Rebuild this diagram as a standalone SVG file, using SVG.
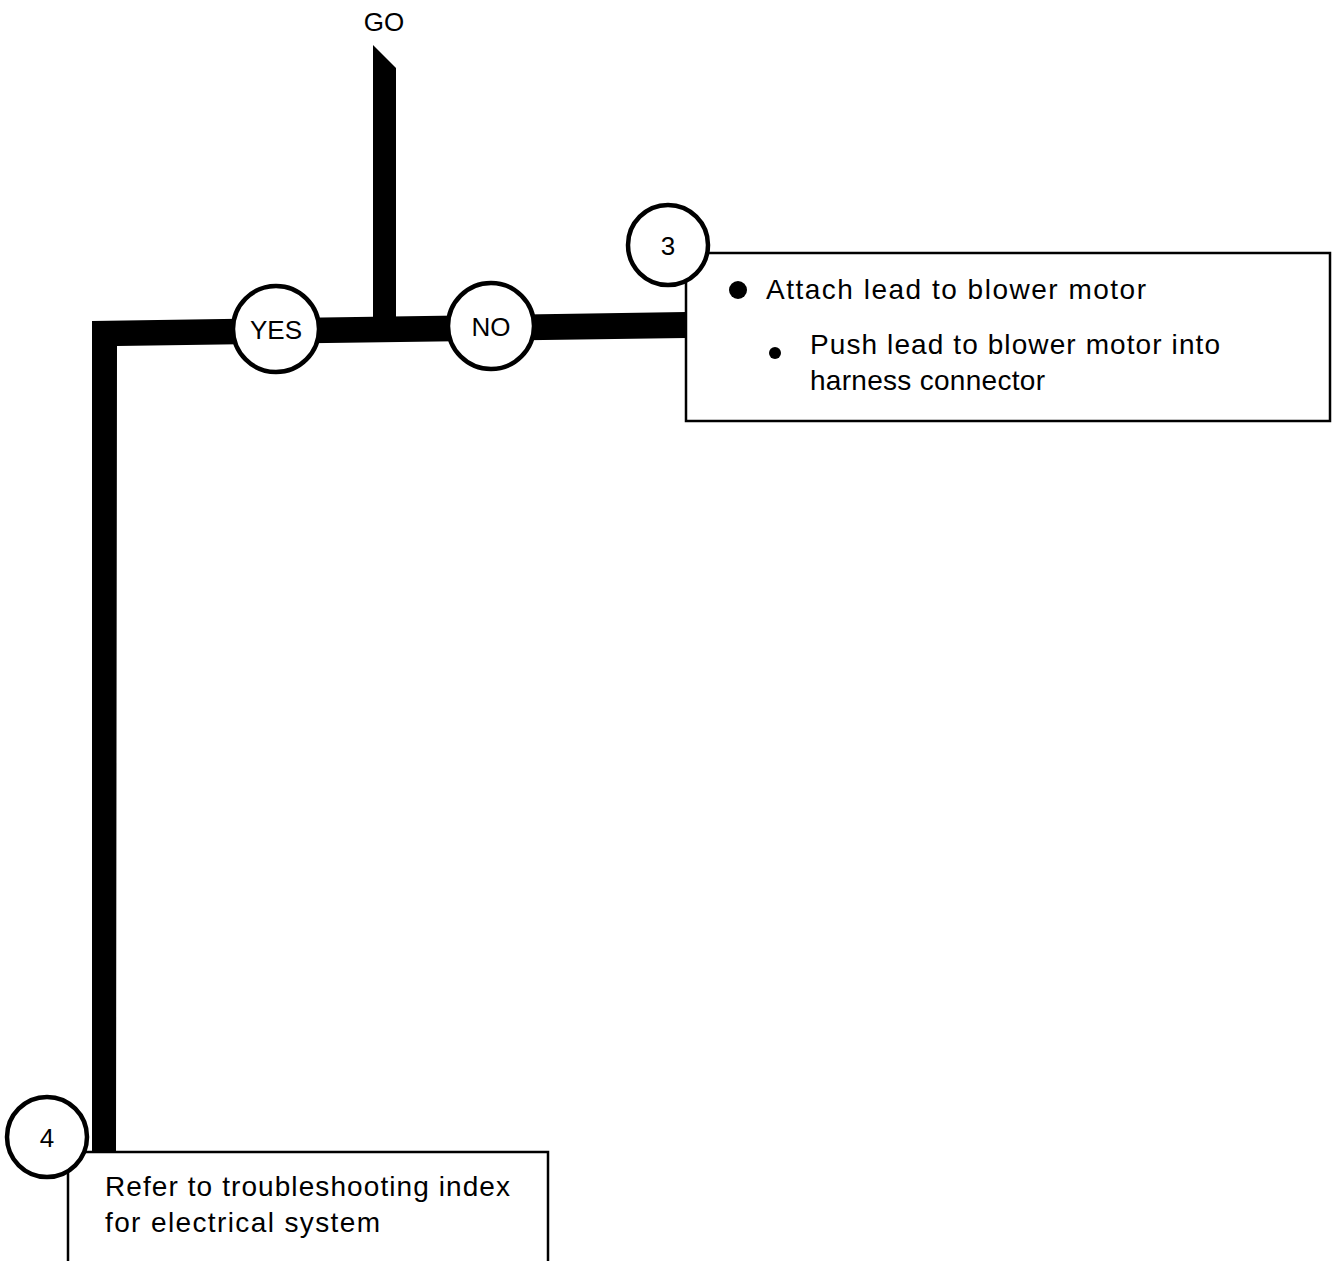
<svg xmlns="http://www.w3.org/2000/svg" width="1332" height="1261" viewBox="0 0 1332 1261">
<style>
.t{font-family:"Liberation Sans","DejaVu Sans",sans-serif;font-size:28px;fill:#000}
.l{font-family:"Liberation Sans","DejaVu Sans",sans-serif;font-size:26px;fill:#000;text-anchor:middle}
.c{fill:#fff;stroke:#000;stroke-width:4.5}
.b{fill:#fff;stroke:#000;stroke-width:2.5}
.bar{fill:#000}
</style>
<rect width="1332" height="1261" fill="#fff"/>
<text class="l" x="384" y="31">GO</text>
<g id="connectors">
<polygon class="bar" points="373,45 396,68 396,318 373,318"/>
<polygon class="bar" points="92,321 686,312 686,338 117,346 116,1160 92,1160"/>
</g>
<g id="yes"><circle class="c" cx="276" cy="329" r="43"/><text class="l" x="276" y="339">YES</text></g>
<g id="no"><circle class="c" cx="491" cy="326" r="43"/><text class="l" x="491" y="336">NO</text></g>
<g id="step3">
<rect class="b" x="686" y="253" width="644" height="168"/>
<circle class="c" cx="668" cy="245" r="40"/>
<text class="l" x="668" y="255">3</text>
<circle cx="738" cy="290" r="9"/>
<text class="t" x="766" y="299" textLength="380">Attach lead to blower motor</text>
<circle cx="775" cy="353" r="6"/>
<text class="t" x="810" y="354" textLength="410">Push lead to blower motor into</text>
<text class="t" x="810" y="390" textLength="235">harness connector</text>
</g>
<g id="step4">
<rect class="b" x="68" y="1152" width="480" height="120"/>
<circle class="c" cx="47" cy="1137" r="40"/>
<text class="l" x="47" y="1147">4</text>
<text class="t" x="105" y="1196" textLength="405">Refer to troubleshooting index</text>
<text class="t" x="105" y="1232" textLength="275">for electrical system</text>
</g>
</svg>
